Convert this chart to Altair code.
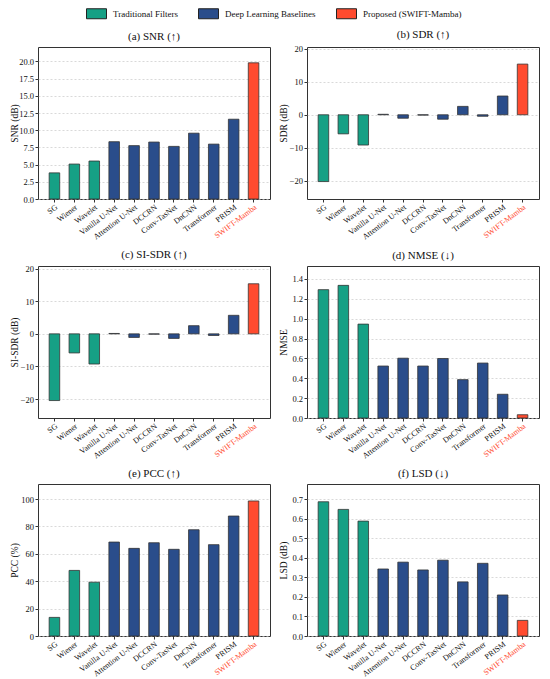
import altair as alt
import pandas as pd

methods = ["SG", "Wiener", "Wavelet", "Vanilla U-Net", "Attention U-Net", "DCCRN",
           "Conv-TasNet", "DnCNN", "Transformer", "PRISM", "SWIFT-Mamba"]
method_groups = ["Traditional Filters"] * 3 + ["Deep Learning Baselines"] * 7 + ["Proposed (SWIFT-Mamba)"]
group_order = ["Traditional Filters", "Deep Learning Baselines", "Proposed (SWIFT-Mamba)"]
group_colors = ["#16a085", "#2a4d8b", "#ff4b2f"]

snr = [3.8, 5.08, 5.52, 8.33, 7.76, 8.28, 7.65, 9.57, 7.98, 11.6, 19.8]
sdr = [-20.3, -5.8, -9.2, 0.15, -1.05, -0.1, -1.35, 2.55, -0.45, 5.7, 15.4]
si_sdr = [-20.45, -5.85, -9.25, 0.12, -1.1, -0.1, -1.4, 2.5, -0.5, 5.68, 15.35]
nmse = [1.292, 1.335, 0.945, 0.523, 0.602, 0.523, 0.599, 0.386, 0.553, 0.239, 0.033]
pcc = [13.6, 47.9, 39.3, 68.6, 64.0, 68.1, 63.3, 77.6, 66.7, 87.6, 98.6]
lsd = [0.687, 0.648, 0.588, 0.343, 0.378, 0.338, 0.388, 0.277, 0.372, 0.21, 0.08]

panels = [
    ("SNR", snr, "(a) SNR (\u2191)", "SNR (dB)", [0, 22.1], [0, 2.5, 5, 7.5, 10, 12.5, 15, 17.5, 20], ".1f"),
    ("SDR", sdr, "(b) SDR (\u2191)", "SDR (dB)", [-25.6, 20.6], [-20, -10, 0, 10, 20], "d"),
    ("SI-SDR", si_sdr, "(c) SI-SDR (\u2191)", "SI-SDR (dB)", [-25.8, 20.8], [-20, -10, 0, 10, 20], "d"),
    ("NMSE", nmse, "(d) NMSE (\u2193)", "NMSE", [0, 1.53], [0, 0.2, 0.4, 0.6, 0.8, 1.0, 1.2, 1.4], ".1f"),
    ("PCC", pcc, "(e) PCC (\u2191)", "PCC (%)", [0, 111], [0, 20, 40, 60, 80, 100], "d"),
    ("LSD", lsd, "(f) LSD (\u2193)", "LSD (dB)", [0, 0.778], [0, 0.1, 0.2, 0.3, 0.4, 0.5, 0.6, 0.7], ".1f"),
]

rows = []
for key, vals, *_ in panels:
    for m, g, v in zip(methods, method_groups, vals):
        rows.append({"metric": key, "method": m, "group": g, "value": v})
df = pd.DataFrame(rows)

FONT = "Liberation Serif"
W, H = 232, 152

legend = alt.Legend(
    orient="none", legendX=53, legendY=-39, direction="horizontal", title=None,
    symbolType="M-2,-1H2V1H-2Z", symbolSize=100, symbolStrokeColor="#222",
    symbolStrokeWidth=1, symbolOpacity=1, labelFontSize=9, labelOffset=11,
    columnPadding=18, labelFont=FONT, labelColor="#111",
)

charts = []
for key, vals, title, ytitle, domain, ticks, fmt in panels:
    c = alt.Chart(df).transform_filter(alt.datum.metric == key).mark_bar(
        stroke="#333", strokeWidth=0.8
    ).encode(
        x=alt.X("method:N", sort=methods,
                scale=alt.Scale(paddingInner=0.47, paddingOuter=0.56),
                axis=alt.Axis(title=None, labelAngle=-37, labelAlign="right",
                              labelBaseline="top", labelPadding=1, tickSize=3,
                              labelFontSize=8, grid=False,
                              labelColor=alt.expr("datum.value == 'SWIFT-Mamba' ? '#ff4b2f' : '#111'"))),
        y=alt.Y("value:Q", stack=None,
                scale=alt.Scale(domain=domain, nice=False, zero=False),
                axis=alt.Axis(title=ytitle, values=ticks, format=fmt, grid=True,
                              gridColor="#c8c8c8", gridDash=[2, 2], gridWidth=0.7,
                              tickSize=3, labelPadding=1.5, titlePadding=1,
                              minExtent=18, maxExtent=18)),
        color=alt.Color("group:N", scale=alt.Scale(domain=group_order, range=group_colors),
                        legend=legend),
    ).properties(width=W, height=H, title=title)
    charts.append(c)

chart = alt.concat(*charts, columns=2, spacing={"row": 6, "column": 6}).properties(
    padding={"left": 0, "top": 0, "right": 0, "bottom": 0}
).configure_axis(
    labelFont=FONT, titleFont=FONT, labelFontSize=8.5, titleFontSize=9.5,
    titleFontWeight="normal", labelColor="#111", titleColor="#111",
    tickColor="#333", domain=False,
).configure_view(
    stroke="#333", strokeWidth=1
).configure_title(
    font=FONT, fontSize=11, fontWeight="normal", offset=5, anchor="middle", color="#111"
).configure_legend(
    labelFont=FONT
)

chart.save("out.html", embed_options={"renderer": "svg", "actions": False})
